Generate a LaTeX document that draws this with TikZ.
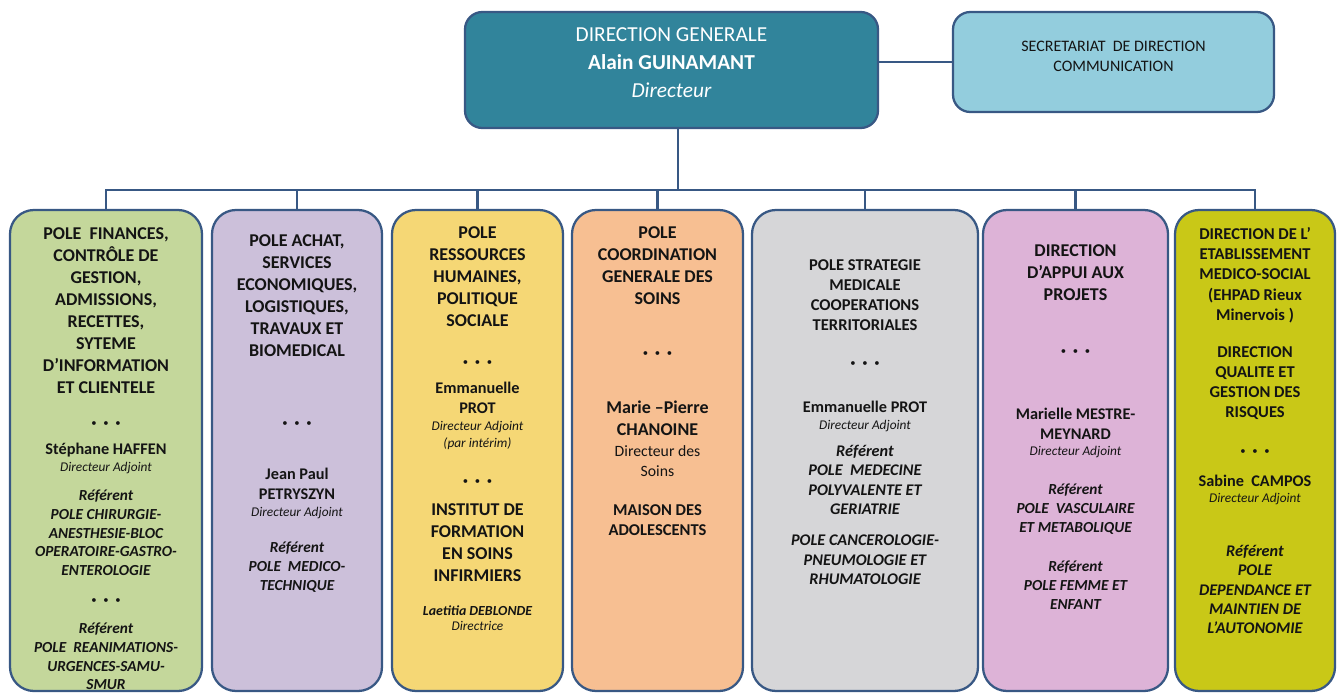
\documentclass[tikz,border=0pt]{standalone}
\usepackage{fontspec}
\setmainfont{Carlito}
\usetikzlibrary{fit}
\definecolor{edgeBlue}{HTML}{385884}
\definecolor{dgTeal}{HTML}{31849B}
\definecolor{secBlue}{HTML}{93CDDD}
\definecolor{poleGreen}{HTML}{C4D79B}
\definecolor{poleLilac}{HTML}{CCC0DA}
\definecolor{poleYellow}{HTML}{F5D775}
\definecolor{poleOrange}{HTML}{F7BF92}
\definecolor{poleGrey}{HTML}{D6D6D8}
\definecolor{polePink}{HTML}{DDB3D7}
\definecolor{poleOlive}{HTML}{C9C817}
\definecolor{inkDark}{HTML}{141414}

\begin{document}
\begin{tikzpicture}[x=0.75pt, y=-0.75pt,
  box/.style={draw=edgeBlue, line width=1.7pt, rounded corners=13pt, inner sep=0pt},
  pole/.style={box, fill=#1, rounded corners=18pt},
  wire/.style={draw=edgeBlue, line width=1.9pt},
  lbl/.style={inner sep=0pt, align=center, anchor=north, text=inkDark},
  ttl/.style={lbl, font=\fontsize{13.5}{16.5}\selectfont\bfseries},
  ttls/.style={lbl, font=\fontsize{12.4}{15.2}\selectfont\bfseries},
  nm/.style={lbl, font=\fontsize{12.2}{14.6}\selectfont\bfseries},
  role/.style={lbl, font=\fontsize{10}{12.4}\selectfont\itshape},
  ref/.style={lbl, font=\fontsize{11.5}{14}\selectfont\bfseries\itshape},
  refl/.style={lbl, font=\fontsize{12.2}{14.5}\selectfont\bfseries\itshape},
  sig/.style={lbl, font=\fontsize{10.4}{12.4}\selectfont\bfseries\itshape},
  plain/.style={lbl, font=\fontsize{11.8}{15}\selectfont},
  pts/.style={inner sep=0pt, text=inkDark, font=\fontsize{8}{8}\selectfont}]
\useasboundingbox (0,0) rectangle (1338,693);

\node[box, fill=dgTeal, text=white, align=center, fit={(465,12) (878,128)},
  font=\fontsize{16}{21}\selectfont] (dg)
  {DIRECTION GENERALE\\\textbf{Alain GUINAMANT}\\\textit{Directeur}};
\node[box, fill=secBlue, text=inkDark, align=center, fit={(953,12) (1274,112)},
  font=\fontsize{12}{15}\selectfont] (sec)
  {SECRETARIAT~ DE DIRECTION\\COMMUNICATION};

\node[pole=poleGreen, fit={(10,210) (202,691)}] (p1) {};
\node[pole=poleLilac, fit={(212,210) (382,691)}] (p2) {};
\node[pole=poleYellow, fit={(392,210) (563,691)}] (p3) {};
\node[pole=poleOrange, fit={(572,210) (743,691)}] (p4) {};
\node[pole=poleGrey, fit={(752,210) (978,691)}] (p5) {};
\node[pole=polePink, fit={(983,210) (1168,691)}] (p6) {};
\node[pole=poleOlive, fit={(1175,210) (1335,691)}] (p7) {};

\coordinate (bus) at (678,190);
\draw[wire] (sec.west) -- (sec.west -| dg.east);
\draw[wire] (bus |- dg.south) -- (bus);
\draw[wire] (p1.north) |- (p7.north |- bus) -- (p7.north);
\foreach \p in {p2,p3,p4,p5,p6}
  \draw[wire] (\p.north) -- (\p.north |- bus);

% pole 1
\node[ttl] (t1a) at (106,227) {POLE~ FINANCES,\\CONTRÔLE DE\\GESTION,\\ADMISSIONS,\\RECETTES,\\SYTEME\\D’INFORMATION\\ET CLIENTELE};
\node[pts] (t1b) at (106,424) {•\hspace{5pt}•\hspace{5pt}•};
\node[nm] (t1c) at (106,443) {Stéphane HAFFEN};
\node[role] (t1d) at (106,462) {Directeur Adjoint};
\node[ref] (t1e) at (106,490) {Référent\\POLE CHIRURGIE-\\ANESTHESIE-BLOC\\OPERATOIRE-GASTRO-\\ENTEROLOGIE};
\node[pts] (t1f) at (106,601) {•\hspace{5pt}•\hspace{5pt}•};
\node[ref] (t1g) at (106,623) {Référent\\POLE~ REANIMATIONS-\\URGENCES-SAMU-\\SMUR};

% pole 2
\node[ttl] (t2a) at (297,234) {POLE ACHAT,\\SERVICES\\ECONOMIQUES,\\LOGISTIQUES,\\TRAVAUX ET\\BIOMEDICAL};
\node[pts] (t2b) at (297,424) {•\hspace{5pt}•\hspace{5pt}•};
\node[nm] (t2c) at (297,468) {Jean Paul\\PETRYSZYN};
\node[role] (t2d) at (297,507) {Directeur Adjoint};
\node[ref] (t2e) at (297,542) {Référent\\POLE~ MEDICO-\\TECHNIQUE};

% pole 3
\node[ttl] (t3a) at (477.5,226) {POLE\\RESSOURCES\\HUMAINES,\\POLITIQUE\\SOCIALE};
\node[pts] (t3b) at (477.5,363) {•\hspace{5pt}•\hspace{5pt}•};
\node[nm] (t3c) at (477.5,382) {Emmanuelle\\PROT};
\node[role] (t3d) at (477.5,421) {Directeur Adjoint\\(par intérim)};
\node[pts] (t3e) at (477.5,482) {•\hspace{5pt}•\hspace{5pt}•};
\node[ttl] (t3f) at (477.5,503) {INSTITUT DE\\FORMATION\\EN SOINS\\INFIRMIERS};
\node[sig] (t3g) at (477.5,605) {Laetitia DEBLONDE};
\node[role] (t3h) at (477.5,621) {Directrice};

% pole 4
\node[ttl] (t4a) at (657.5,226) {POLE\\COORDINATION\\GENERALE DES\\SOINS};
\node[pts] (t4b) at (657.5,354) {•\hspace{5pt}•\hspace{5pt}•};
\node[ttl] (t4c) at (657.5,401) {Marie –Pierre\\CHANOINE};
\node[plain] (t4d) at (657.5,445) {Directeur des\\Soins};
\node[ttls] (t4e) at (657.5,504) {MAISON DES\\ADOLESCENTS};

% pole 5
\node[ttls] (t5a) at (865,259) {POLE STRATEGIE\\MEDICALE\\COOPERATIONS\\TERRITORIALES};
\node[pts] (t5b) at (865,364) {•\hspace{5pt}•\hspace{5pt}•};
\node[nm] (t5c) at (865,401) {Emmanuelle PROT};
\node[role] (t5d) at (865,420) {Directeur Adjoint};
\node[refl] (t5e) at (865,445) {Référent\\POLE~ MEDECINE\\POLYVALENTE ET\\GERIATRIE};
\node[refl] (t5f) at (865,535) {POLE CANCEROLOGIE-\\PNEUMOLOGIE ET\\RHUMATOLOGIE};

% pole 6
\node[ttl] (t6a) at (1075.5,244) {DIRECTION\\D’APPUI AUX\\PROJETS};
\node[pts] (t6b) at (1075.5,352) {•\hspace{5pt}•\hspace{5pt}•};
\node[nm] (t6c) at (1075.5,408) {Marielle MESTRE-\\MEYNARD};
\node[role] (t6d) at (1075.5,446) {Directeur Adjoint};
\node[ref] (t6e) at (1075.5,484) {Référent\\POLE~ VASCULAIRE\\ET METABOLIQUE};
\node[ref] (t6f) at (1075.5,561) {Référent\\POLE FEMME ET\\ENFANT};

% pole 7
\node[ttls] (t7a) at (1255,227) {DIRECTION DE L’\\ETABLISSEMENT\\MEDICO-SOCIAL\\(EHPAD Rieux\\Minervois )};
\node[ttls] (t7b) at (1255,346) {DIRECTION\\QUALITE ET\\GESTION DES\\RISQUES};
\node[pts] (t7c) at (1255,452) {•\hspace{5pt}•\hspace{5pt}•};
\node[nm] (t7d) at (1255,475) {Sabine~ CAMPOS};
\node[role] (t7e) at (1255,493) {Directeur Adjoint};
\node[refl] (t7f) at (1255,545) {Référent\\POLE\\DEPENDANCE ET\\MAINTIEN DE\\L’AUTONOMIE};
\end{tikzpicture}
\end{document}
